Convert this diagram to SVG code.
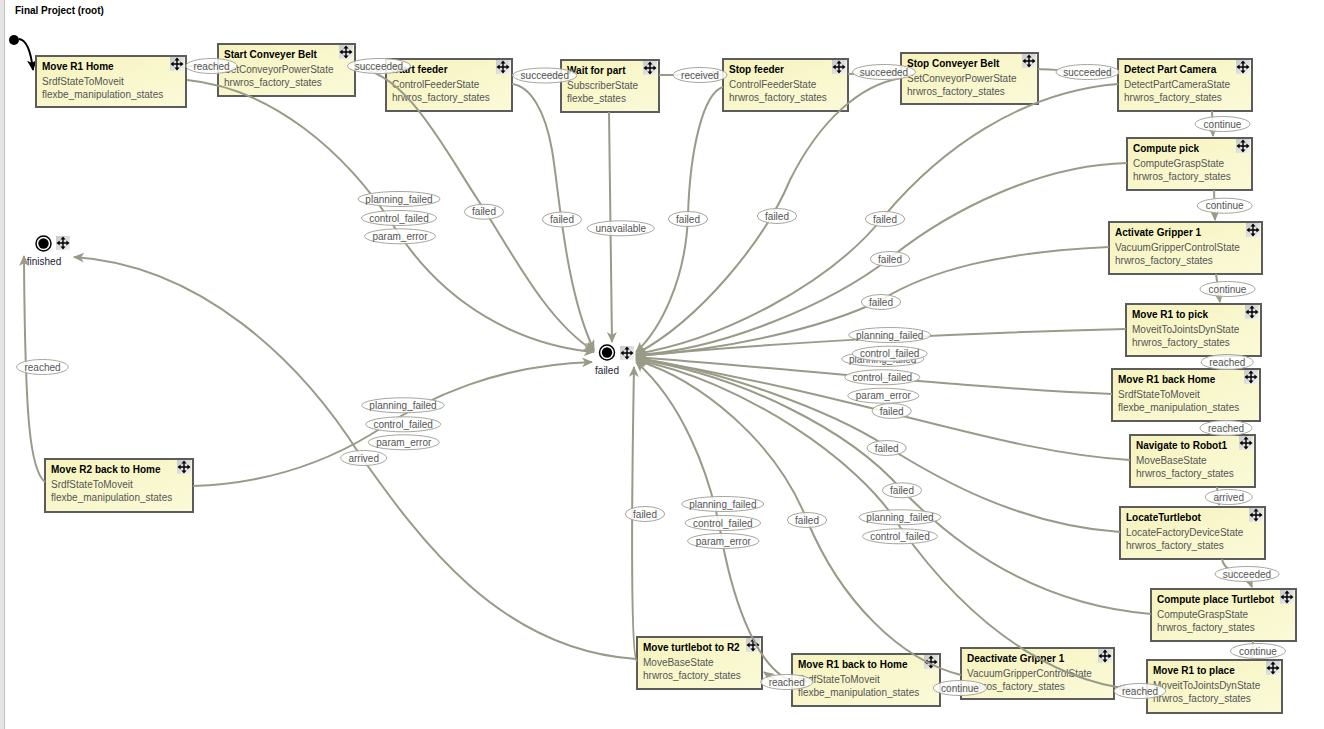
<svg xmlns="http://www.w3.org/2000/svg" xmlns:xlink="http://www.w3.org/1999/xlink" width="1324" height="729" viewBox="0 0 1324 729">
<defs>
<linearGradient id="bg" x1="0" y1="0" x2="1" y2="1">
<stop offset="0" stop-color="#f6f3bd"/>
<stop offset="1" stop-color="#fbfad9"/>
</linearGradient>
<linearGradient id="ibg" x1="0" y1="0" x2="1" y2="1">
<stop offset="0" stop-color="#c8c8c8"/>
<stop offset="1" stop-color="#f4f4f4"/>
</linearGradient>
<marker id="ah" markerWidth="12" markerHeight="10" refX="10" refY="5" orient="auto" markerUnits="userSpaceOnUse">
<path d="M0,0 L11,5 L0,10 L3,5 z" fill="#9a9a88"/>
</marker>
<marker id="ahb" markerWidth="12" markerHeight="10" refX="10" refY="5" orient="auto" markerUnits="userSpaceOnUse">
<path d="M0,0 L11,5 L0,10 L3,5 z" fill="#000"/>
</marker>
<g id="mv">
<rect x="0" y="0" width="14" height="14" fill="url(#ibg)"/>
<path d="M7,3 V11 M3,7 H11" stroke="#000" stroke-width="1.4"/>
<path d="M7,0.5 L9.6,3.6 L4.4,3.6 Z M7,13.5 L9.6,10.4 L4.4,10.4 Z M0.5,7 L3.6,4.4 L3.6,9.6 Z M13.5,7 L10.4,4.4 L10.4,9.6 Z" fill="#000"/>
</g>
<style>
.box{fill:url(#bg);stroke:#5c5c5c;stroke-width:2}
.t{font-family:"Liberation Sans",Arial,sans-serif;font-weight:bold;font-size:10px;fill:#000}
.s{font-family:"Liberation Sans",Arial,sans-serif;font-size:10px;fill:#555}
.c{fill:none;stroke:#9a9a88;stroke-width:2;marker-end:url(#ah)}
.le{fill:#fff;fill-opacity:0.85;stroke:#a6a69c;stroke-width:1}
.lt{font-family:"Liberation Sans",Arial,sans-serif;font-size:10px;fill:#555;text-anchor:middle}
.ot{font-family:"Liberation Sans",Arial,sans-serif;font-size:10px;fill:#1a1a33;text-anchor:middle}
</style>
</defs>
<rect x="0" y="0" width="1324" height="729" fill="#fff"/>
<rect x="0" y="0" width="4" height="729" fill="#e4e4e4"/>
<line x1="4.5" y1="0" x2="4.5" y2="729" stroke="#c0c0c0" stroke-width="1"/>
<text x="15" y="13.5" class="t">Final Project (root)</text>

<g id="init">
<circle cx="14" cy="40" r="5" fill="#000"/>
<path d="M19,39 C27,40 31,52 33,70" fill="none" stroke="#000" stroke-width="2" marker-end="url(#ahb)"/>
</g>

<g id="out_finished">
<circle cx="43.5" cy="243.5" r="7.5" fill="#fff" stroke="#000" stroke-width="1.5"/>
<circle cx="43.5" cy="243.5" r="5.2" fill="#000"/>
<use href="#mv" x="56" y="236"/>
<text x="44" y="264.5" class="ot">finished</text>
</g>
<g id="out_failed">
<circle cx="607" cy="352.5" r="7.5" fill="#fff" stroke="#000" stroke-width="1.5"/>
<circle cx="607" cy="352.5" r="5.2" fill="#000"/>
<use href="#mv" x="620" y="346"/>
<text x="607" y="374" class="ot">failed</text>
</g>

<g id="n_move_r1_home"><rect class="box" x="36" y="56" width="150" height="51"/><use href="#mv" x="170" y="57"/><text class="t" x="42" y="70">Move R1 Home</text><text class="s" x="42" y="84.5">SrdfStateToMoveit</text><text class="s" x="42" y="97.5">flexbe_manipulation_states</text></g>
<g id="n_start_conveyer"><rect class="box" x="218" y="44" width="137" height="52"/><use href="#mv" x="339" y="45"/><text class="t" x="224" y="58">Start Conveyer Belt</text><text class="s" x="224" y="72.5">SetConveyorPowerState</text><text class="s" x="224" y="85.5">hrwros_factory_states</text></g>
<g id="n_start_feeder"><rect class="box" x="386" y="59" width="126" height="52"/><use href="#mv" x="496" y="60"/><text class="t" x="392" y="73">Start feeder</text><text class="s" x="392" y="87.5">ControlFeederState</text><text class="s" x="392" y="100.5">hrwros_factory_states</text></g>
<g id="n_wait_part"><rect class="box" x="561" y="60" width="98" height="52"/><use href="#mv" x="643" y="61"/><text class="t" x="567" y="74">Wait for part</text><text class="s" x="567" y="88.5">SubscriberState</text><text class="s" x="567" y="101.5">flexbe_states</text></g>
<g id="n_stop_feeder"><rect class="box" x="723" y="59" width="125" height="52"/><use href="#mv" x="832" y="60"/><text class="t" x="729" y="73">Stop feeder</text><text class="s" x="729" y="87.5">ControlFeederState</text><text class="s" x="729" y="100.5">hrwros_factory_states</text></g>
<g id="n_stop_conveyer"><rect class="box" x="901" y="53" width="137" height="51"/><use href="#mv" x="1022" y="54"/><text class="t" x="907" y="67">Stop Conveyer Belt</text><text class="s" x="907" y="81.5">SetConveyorPowerState</text><text class="s" x="907" y="94.5">hrwros_factory_states</text></g>
<g id="n_detect"><rect class="box" x="1118" y="59" width="134" height="52"/><use href="#mv" x="1236" y="60"/><text class="t" x="1124" y="73">Detect Part Camera</text><text class="s" x="1124" y="87.5">DetectPartCameraState</text><text class="s" x="1124" y="100.5">hrwros_factory_states</text></g>
<g id="n_compute_pick"><rect class="box" x="1127" y="138" width="125" height="52"/><use href="#mv" x="1236" y="139"/><text class="t" x="1133" y="152">Compute pick</text><text class="s" x="1133" y="166.5">ComputeGraspState</text><text class="s" x="1133" y="179.5">hrwros_factory_states</text></g>
<g id="n_activate"><rect class="box" x="1109" y="222" width="153" height="52"/><use href="#mv" x="1246" y="223"/><text class="t" x="1115" y="236">Activate Gripper 1</text><text class="s" x="1115" y="250.5">VacuumGripperControlState</text><text class="s" x="1115" y="263.5">hrwros_factory_states</text></g>
<g id="n_r1_pick"><rect class="box" x="1126" y="304" width="135" height="52"/><use href="#mv" x="1245" y="305"/><text class="t" x="1132" y="318">Move R1 to pick</text><text class="s" x="1132" y="332.5">MoveitToJointsDynState</text><text class="s" x="1132" y="345.5">hrwros_factory_states</text></g>
<g id="n_r1_back_home"><rect class="box" x="1112" y="369" width="148" height="52"/><use href="#mv" x="1244" y="370"/><text class="t" x="1118" y="383">Move R1 back Home</text><text class="s" x="1118" y="397.5">SrdfStateToMoveit</text><text class="s" x="1118" y="410.5">flexbe_manipulation_states</text></g>
<g id="n_navigate"><rect class="box" x="1130" y="435" width="125" height="52"/><use href="#mv" x="1239" y="436"/><text class="t" x="1136" y="449">Navigate to Robot1</text><text class="s" x="1136" y="463.5">MoveBaseState</text><text class="s" x="1136" y="476.5">hrwros_factory_states</text></g>
<g id="n_locate"><rect class="box" x="1120" y="507" width="145" height="52"/><use href="#mv" x="1249" y="508"/><text class="t" x="1126" y="521">LocateTurtlebot</text><text class="s" x="1126" y="535.5">LocateFactoryDeviceState</text><text class="s" x="1126" y="548.5">hrwros_factory_states</text></g>
<g id="n_compute_place"><rect class="box" x="1151" y="589" width="145" height="52"/><use href="#mv" x="1280" y="590"/><text class="t" x="1157" y="603">Compute place Turtlebot</text><text class="s" x="1157" y="617.5">ComputeGraspState</text><text class="s" x="1157" y="630.5">hrwros_factory_states</text></g>
<g id="n_r1_place"><rect class="box" x="1147" y="660" width="135" height="53"/><use href="#mv" x="1266" y="661"/><text class="t" x="1153" y="674">Move R1 to place</text><text class="s" x="1153" y="688.5">MoveitToJointsDynState</text><text class="s" x="1153" y="701.5">hrwros_factory_states</text></g>
<g id="n_deactivate"><rect class="box" x="961" y="648" width="153" height="51"/><use href="#mv" x="1098" y="649"/><text class="t" x="967" y="662">Deactivate Gripper 1</text><text class="s" x="967" y="676.5">VacuumGripperControlState</text><text class="s" x="967" y="689.5">hrwros_factory_states</text></g>
<g id="n_r1_back_to_home"><rect class="box" x="792" y="654" width="148" height="52"/><use href="#mv" x="924" y="655"/><text class="t" x="798" y="668">Move R1 back to Home</text><text class="s" x="798" y="682.5">SrdfStateToMoveit</text><text class="s" x="798" y="695.5">flexbe_manipulation_states</text></g>
<g id="n_turtlebot_r2"><rect class="box" x="637" y="637" width="125" height="52"/><use href="#mv" x="746" y="638"/><text class="t" x="643" y="651">Move turtlebot to R2</text><text class="s" x="643" y="665.5">MoveBaseState</text><text class="s" x="643" y="678.5">hrwros_factory_states</text></g>
<g id="n_r2_back_home"><rect class="box" x="45" y="459" width="148" height="53"/><use href="#mv" x="177" y="460"/><text class="t" x="51" y="473">Move R2 back to Home</text><text class="s" x="51" y="487.5">SrdfStateToMoveit</text><text class="s" x="51" y="500.5">flexbe_manipulation_states</text></g>

<g id="connectors">
<path class="c" d="M187,66 L216,66"/>
<path class="c" d="M187,80 C270,88 345,150 395,228 S520,345 594,352"/>
<path class="c" d="M355,66 L384,70"/>
<path class="c" d="M355,68 C405,70 445,150 478,200 S545,320 594,351"/>
<path class="c" d="M512,75 L559,75"/>
<path class="c" d="M512,84 C530,86 545,110 552,150 S565,290 594,350"/>
<path class="c" d="M659,75 L721,75"/>
<path class="c" d="M609,112 C610,200 611,280 612,342"/>
<path class="c" d="M723,87 C703,93 690,150 688,215 C686,280 660,330 636,352"/>
<path class="c" d="M848,74 L899,72"/>
<path class="c" d="M901,78 C860,85 820,120 790,180 C765,240 700,320 636,354"/>
<path class="c" d="M1038,69 C1060,70 1090,72 1116,72"/>
<path class="c" d="M1118,84 C1020,92 940,150 885,215 C830,285 720,340 636,354"/>
<path class="c" d="M1212,111 L1213,136"/>
<path class="c" d="M1127,163 C1040,165 950,210 890,258 C830,305 720,350 636,355"/>
<path class="c" d="M1214,190 L1215,220"/>
<path class="c" d="M1109,247 C1000,252 930,270 881,300 C820,330 720,350 636,356"/>
<path class="c" d="M1216,274 L1220,302"/>
<path class="c" d="M1126,329 C1000,332 800,340 636,356"/>
<path class="c" d="M1225,356 L1226,368"/>
<path class="c" d="M1112,394 C1000,390 800,370 636,357"/>
<path class="c" d="M1226,421 L1226,434"/>
<path class="c" d="M1130,460 C1000,452 880,400 636,358"/>
<path class="c" d="M1217,487 L1219,505"/>
<path class="c" d="M1120,532 C1020,525 940,480 886,446 C830,410 720,370 636,358"/>
<path class="c" d="M1222,559 C1225,575 1245,570 1252,587"/>
<path class="c" d="M1151,614 C1040,605 960,550 902,490 C850,430 740,375 636,359"/>
<path class="c" d="M1253,641 L1252,659"/>
<path class="c" d="M1147,690 C1070,688 980,640 900,527 C860,460 740,380 636,360"/>
<path class="c" d="M1147,693 L1116,687"/>
<path class="c" d="M961,675 C900,660 840,600 807,520 C775,440 700,380 636,360"/>
<path class="c" d="M961,688 L942,688"/>
<path class="c" d="M792,681 C760,670 735,610 722,540 C710,470 680,400 636,362"/>
<path class="c" d="M792,686 C780,684 772,678 764,672"/>
<path class="c" d="M637,661 C630,658 632,480 634,367"/>
<path class="c" d="M636,659 C500,650 420,540 360,455 C300,360 200,265 74,257"/>
<path class="c" d="M193,486 C260,484 320,465 370,435 C430,395 500,365 592,362"/>
<path class="c" d="M45,482 C30,470 25,420 24,256"/>

<g id="labels">
<ellipse class="le" cx="211.5" cy="66" rx="25.5" ry="7.5"/><text class="lt" x="211.5" y="69.5">reached</text>
<ellipse class="le" cx="399" cy="199" rx="41" ry="7.5"/><text class="lt" x="399" y="202.5">planning_failed</text>
<ellipse class="le" cx="399" cy="218" rx="37.5" ry="7.5"/><text class="lt" x="399" y="221.5">control_failed</text>
<ellipse class="le" cx="400" cy="236.3" rx="35.5" ry="7.5"/><text class="lt" x="400" y="239.8">param_error</text>
<ellipse class="le" cx="379" cy="66" rx="31.5" ry="7.5"/><text class="lt" x="379" y="69.5">succeeded</text>
<ellipse class="le" cx="484" cy="211.7" rx="19.7" ry="7.5"/><text class="lt" x="484" y="215.2">failed</text>
<ellipse class="le" cx="544.8" cy="75.5" rx="32" ry="7.5"/><text class="lt" x="544.8" y="79">succeeded</text>
<ellipse class="le" cx="562" cy="219.5" rx="19.7" ry="7.5"/><text class="lt" x="562" y="223">failed</text>
<ellipse class="le" cx="700" cy="75" rx="27" ry="7.5"/><text class="lt" x="700" y="78.5">received</text>
<ellipse class="le" cx="620.8" cy="228.3" rx="33.5" ry="7.5"/><text class="lt" x="620.8" y="231.8">unavailable</text>
<ellipse class="le" cx="884" cy="72" rx="31.5" ry="7.5"/><text class="lt" x="884" y="75.5">succeeded</text>
<ellipse class="le" cx="688" cy="219" rx="19.7" ry="7.5"/><text class="lt" x="688" y="222.5">failed</text>
<ellipse class="le" cx="1087.5" cy="72" rx="31.5" ry="7.5"/><text class="lt" x="1087.5" y="75.5">succeeded</text>
<ellipse class="le" cx="777" cy="216" rx="19.7" ry="7.5"/><text class="lt" x="777" y="219.5">failed</text>
<ellipse class="le" cx="1222.5" cy="124" rx="27.5" ry="7.5"/><text class="lt" x="1222.5" y="127.5">continue</text>
<ellipse class="le" cx="885" cy="219" rx="19.7" ry="7.5"/><text class="lt" x="885" y="222.5">failed</text>
<ellipse class="le" cx="1224.7" cy="205.7" rx="27.5" ry="7.5"/><text class="lt" x="1224.7" y="209.2">continue</text>
<ellipse class="le" cx="890" cy="259" rx="19.7" ry="7.5"/><text class="lt" x="890" y="262.5">failed</text>
<ellipse class="le" cx="1227.5" cy="289" rx="27.5" ry="7.5"/><text class="lt" x="1227.5" y="292.5">continue</text>
<ellipse class="le" cx="881" cy="302" rx="19.7" ry="7.5"/><text class="lt" x="881" y="305.5">failed</text>
<ellipse class="le" cx="1227.3" cy="362" rx="26" ry="7.5"/><text class="lt" x="1227.3" y="365.5">reached</text>
<ellipse class="le" cx="882.7" cy="359" rx="41" ry="7.5"/><text class="lt" x="882.7" y="362.5">planning_failed</text>
<ellipse class="le" cx="882.3" cy="377.3" rx="37.5" ry="7.5"/><text class="lt" x="882.3" y="380.8">control_failed</text>
<ellipse class="le" cx="883.3" cy="395.7" rx="35.5" ry="7.5"/><text class="lt" x="883.3" y="399.2">param_error</text>
<ellipse class="le" cx="889.7" cy="335" rx="41" ry="7.5"/><text class="lt" x="889.7" y="338.5">planning_failed</text>
<ellipse class="le" cx="889.7" cy="353.7" rx="37.5" ry="7.5"/><text class="lt" x="889.7" y="357.2">control_failed</text>
<ellipse class="le" cx="1226" cy="428" rx="26" ry="7.5"/><text class="lt" x="1226" y="431.5">reached</text>
<ellipse class="le" cx="891.7" cy="411" rx="19.7" ry="7.5"/><text class="lt" x="891.7" y="414.5">failed</text>
<ellipse class="le" cx="1228.7" cy="497" rx="23.5" ry="7.5"/><text class="lt" x="1228.7" y="500.5">arrived</text>
<ellipse class="le" cx="886.7" cy="448" rx="19.7" ry="7.5"/><text class="lt" x="886.7" y="451.5">failed</text>
<ellipse class="le" cx="1247" cy="574" rx="32" ry="7.5"/><text class="lt" x="1247" y="577.5">succeeded</text>
<ellipse class="le" cx="902" cy="490.3" rx="19.7" ry="7.5"/><text class="lt" x="902" y="493.8">failed</text>
<ellipse class="le" cx="1258" cy="651" rx="27.5" ry="7.5"/><text class="lt" x="1258" y="654.5">continue</text>
<ellipse class="le" cx="900" cy="517.3" rx="41" ry="7.5"/><text class="lt" x="900" y="520.8">planning_failed</text>
<ellipse class="le" cx="900" cy="536.3" rx="37.5" ry="7.5"/><text class="lt" x="900" y="539.8">control_failed</text>
<ellipse class="le" cx="1140" cy="691" rx="25.7" ry="7.5"/><text class="lt" x="1140" y="694.5">reached</text>
<ellipse class="le" cx="807" cy="520" rx="19.7" ry="7.5"/><text class="lt" x="807" y="523.5">failed</text>
<ellipse class="le" cx="960" cy="688" rx="26.7" ry="7.5"/><text class="lt" x="960" y="691.5">continue</text>
<ellipse class="le" cx="722.8" cy="504" rx="41" ry="7.5"/><text class="lt" x="722.8" y="507.5">planning_failed</text>
<ellipse class="le" cx="722.8" cy="523" rx="37.8" ry="7.5"/><text class="lt" x="722.8" y="526.5">control_failed</text>
<ellipse class="le" cx="723.3" cy="541" rx="35.7" ry="7.5"/><text class="lt" x="723.3" y="544.5">param_error</text>
<ellipse class="le" cx="786.7" cy="682" rx="26" ry="7.5"/><text class="lt" x="786.7" y="685.5">reached</text>
<ellipse class="le" cx="645" cy="514" rx="19.7" ry="7.5"/><text class="lt" x="645" y="517.5">failed</text>
<ellipse class="le" cx="363.7" cy="458" rx="23" ry="7.5"/><text class="lt" x="363.7" y="461.5">arrived</text>
<ellipse class="le" cx="403" cy="405.3" rx="41.3" ry="7.5"/><text class="lt" x="403" y="408.8">planning_failed</text>
<ellipse class="le" cx="403.2" cy="424.3" rx="37.5" ry="7.5"/><text class="lt" x="403.2" y="427.8">control_failed</text>
<ellipse class="le" cx="403.8" cy="442.3" rx="35.5" ry="7.5"/><text class="lt" x="403.8" y="445.8">param_error</text>
<ellipse class="le" cx="42.5" cy="367" rx="25.8" ry="7.5"/><text class="lt" x="42.5" y="370.5">reached</text>
</g>
</g>
</svg>
